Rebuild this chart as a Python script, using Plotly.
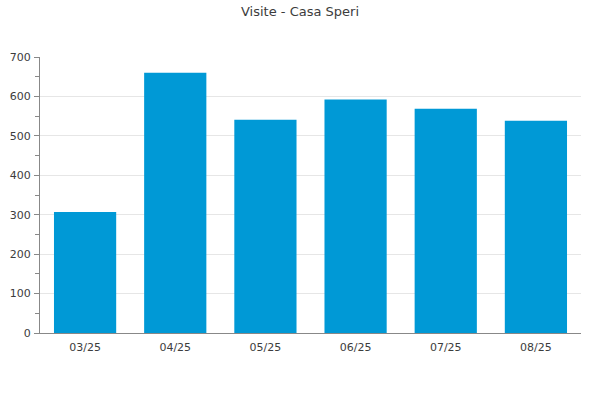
import plotly.graph_objects as go

categories = ["03/25", "04/25", "05/25", "06/25", "07/25", "08/25"]
visits = [307, 660, 541, 592, 569, 538]
y_ticks = [0, 100, 200, 300, 400, 500, 600, 700]

fig = go.Figure(go.Bar(x=categories, y=visits, marker=dict(color="#0099d6", line=dict(width=0)),
                       hoverinfo="x+y"))

fig.update_layout(
    width=600, height=400,
    margin=dict(l=40, r=19, t=57, b=67, autoexpand=False),
    paper_bgcolor="white", plot_bgcolor="white",
    font=dict(family="DejaVu Sans", size=11, color="#3c3c3c"),
    title=dict(text="Visite - Casa Speri", x=0.5, xanchor="center", y=0.972, yanchor="middle",
               font=dict(size=13, color="#3c3c3c")),
    bargap=0.31,
    showlegend=False,
)
fig.update_xaxes(showline=True, linecolor="#888888", linewidth=1, ticks="", showgrid=False,
                 automargin=False, ticklabelstandoff=4, tickfont=dict(size=11, color="#3c3c3c"))
fig.update_yaxes(range=[0, 700], tickvals=y_ticks, showline=True, linecolor="#888888", linewidth=1,
                 ticks="outside", ticklen=5, tickcolor="#888888",
                 gridcolor="#e6e6e6", gridwidth=1, zeroline=False, automargin=False,
                 ticklabelstandoff=1,
                 minor=dict(ticks="outside", dtick=50, ticklen=4, tickcolor="#888888", showgrid=False),
                 tickfont=dict(size=11, color="#3c3c3c"))

fig.write_html("out.html", config={"displayModeBar": False},
               post_script="document.body.style.margin='0';")
